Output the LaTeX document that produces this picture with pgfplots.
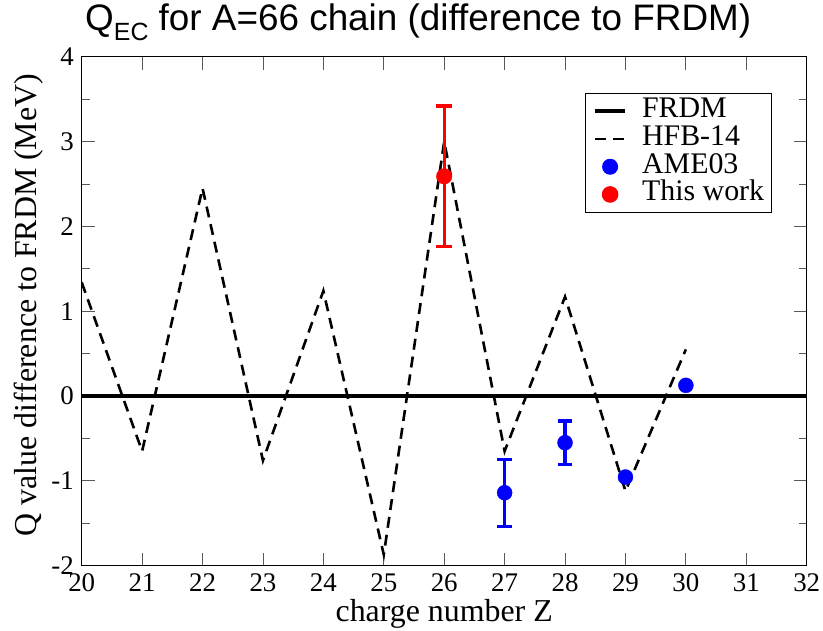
\documentclass[border=0pt]{standalone}
\usepackage{pgfplots}
\pgfplotsset{compat=1.18}
\usepackage{fontspec}
\setmainfont{Liberation Serif}
\newfontfamily\arial{Liberation Sans}
\begin{document}
\begin{tikzpicture}
\begin{axis}[
 name=ax, at={(0,0)}, anchor=south west,
 scale only axis, width=725bp, height=509bp,
 xmin=20, xmax=32, ymin=-2, ymax=4,
 xtick={20,...,32}, ytick={-2,...,4}, minor ytick={-1.5,-0.5,...,3.5},
 tick align=inside, major tick length=13bp, minor tick length=8bp,
 tick style={black!65, line width=0.9bp},
 axis line style={line width=1bp, black},
 /pgf/number format/assume math mode=true,
 ticklabel style={font=\fontsize{27}{27}\selectfont, inner sep=0pt},
 xticklabel style={anchor=north, yshift=-7.3bp},
 yticklabel style={anchor=east, xshift=-7.7bp},
 xlabel={charge number Z}, ylabel={Q value difference to FRDM (MeV)},
 label style={font=\fontsize{32}{32}\selectfont, inner sep=0pt},
 xlabel style={at={(axis description cs:0.5,-0.110)}, anchor=base},
 ylabel style={at={(axis description cs:-0.063,0.512)}, anchor=base},
 title={\arial Q\raisebox{-9.5bp}{\fontsize{25}{25}\selectfont EC} for A=66 chain (difference to FRDM)},
 title style={font=\fontsize{37}{37}\selectfont, inner sep=0pt,
   at={(axis description cs:0.0046,1.0393)}, anchor=base west},
 legend image code/.code={\draw[mark repeat=2,mark phase=2,#1] plot coordinates {(0bp,0bp) (15bp,0bp) (30bp,0bp)};},
 legend style={at={(0.9526,0.929)}, anchor=north east, draw=black, line width=1bp,
   font=\fontsize{30}{30}\selectfont, row sep=2.7bp, column sep=0bp,
   inner xsep=7.7bp, inner ysep=5.5bp,
   nodes={inner sep=0pt, text height=19bp, text depth=6bp}},
 legend cell align=left,
]
\addplot[black, line width=4bp] coordinates {(20,0) (32,0)};
\addlegendentry{\hspace{15bp}FRDM}
\addplot[black, line width=2.6bp, dash pattern=on 11bp off 7bp] coordinates {
 (20,1.34) (21,-0.65) (22,2.45) (23,-0.76) (24,1.24) (25,-1.87)
 (26,3.0) (27,-0.65) (28,1.17) (29,-1.12) (30,0.55)};
\addlegendentry{\hspace{15bp}HFB-14}
\addplot[only marks, mark=*, blue, mark size=7.5bp,
  error bars/.cd, y dir=both, y explicit,
  error bar style={line width=3.3bp, blue},
  error mark options={rotate=90, line width=3.3bp, mark size=7.4bp, blue}]
 coordinates {(27,-1.14) +- (0,0.395) (28,-0.55) +- (0,0.255)};
\addlegendentry{\hspace{15bp}AME03}
\addplot[only marks, mark=*, red, mark size=7.8bp,
  error bars/.cd, y dir=both, y explicit,
  error bar style={line width=3.3bp, red},
  error mark options={rotate=90, line width=3.3bp, mark size=7.8bp, red}]
 coordinates {(26,2.59) +- (0,0.83)};
\addlegendentry{\hspace{15bp}This work}
\addplot[only marks, mark=*, blue, mark size=7.5bp, forget plot]
 coordinates {(29,-0.955) (30,0.126)};
\end{axis}
\path (-81.7bp,-65.3bp) rectangle (741.3bp,565.7bp);
\end{tikzpicture}
\end{document}
